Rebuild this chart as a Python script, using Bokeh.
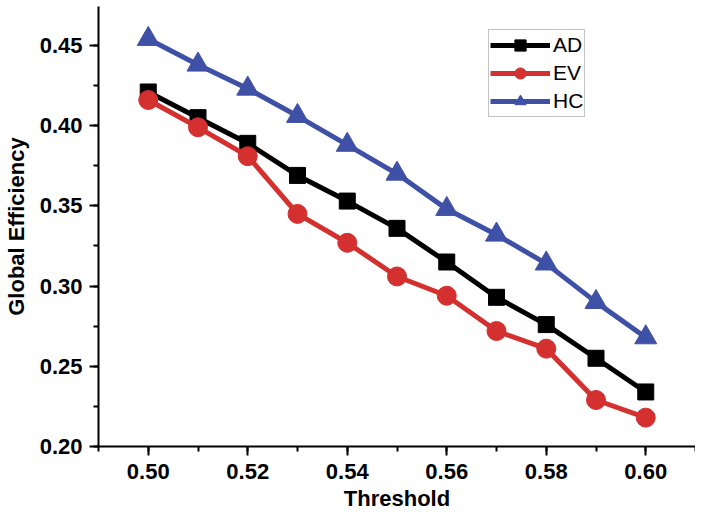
from bokeh.plotting import figure
from bokeh.models import Range1d, FixedTicker, Legend, LegendItem, CustomJSTickFormatter
from bokeh.embed import file_html
from bokeh.resources import INLINE

threshold = [0.50, 0.51, 0.52, 0.53, 0.54, 0.55, 0.56, 0.57, 0.58, 0.59, 0.60]
ad = [0.421, 0.405, 0.389, 0.369, 0.353, 0.336, 0.315, 0.293, 0.276, 0.255, 0.234]
ev = [0.416, 0.399, 0.381, 0.345, 0.327, 0.306, 0.294, 0.272, 0.261, 0.229, 0.218]
hc = [0.454, 0.438, 0.423, 0.406, 0.388, 0.370, 0.348, 0.332, 0.314, 0.290, 0.268]
x_ticks = [0.50, 0.52, 0.54, 0.56, 0.58, 0.60]
y_ticks = [0.20, 0.25, 0.30, 0.35, 0.40, 0.45]

FONT = "Liberation Sans"

p = figure(width=695, height=513, output_backend="svg", toolbar_location=None,
           x_range=Range1d(0.49, 0.61), y_range=Range1d(0.20, 0.4743),
           min_border_left=98, min_border_right=0, min_border_top=6, min_border_bottom=67)
p.outline_line_color = None
p.grid.visible = False

items = []
series = [("AD", ad, "#000000", "square", 16),
          ("EV", ev, "#d3302f", "circle", 19),
          ("HC", hc, "#3f51a6", "triangle", 22)]
for name, vals, col, mk, sz in series:
    l = p.line(threshold, vals, line_color=col, line_width=5)
    s = p.scatter(threshold, vals, marker=mk, size=sz, fill_color=col, line_color=col)
    items.append(LegendItem(label=name, renderers=[l, s]))

legend = Legend(items=items, location=(390, 329))
legend.border_line_color = "#888888"
legend.border_line_width = 1
legend.background_fill_alpha = 1
legend.padding = 1
legend.spacing = 0
legend.margin = 0
legend.glyph_width = 60
legend.glyph_height = 28
legend.label_height = 28
legend.label_standoff = 3
legend.label_text_font = FONT
legend.label_text_font_size = "21px"
legend.label_text_color = "#000000"
p.add_layout(legend, "center")

for ax in (p.xaxis[0], p.yaxis[0]):
    ax.axis_line_width = 2
    ax.axis_line_color = "#000000"
    ax.major_tick_line_width = 2
    ax.minor_tick_line_width = 2
    ax.major_tick_line_color = "#000000"
    ax.minor_tick_line_color = "#000000"
    ax.major_tick_out = 9
    ax.major_tick_in = 0
    ax.minor_tick_out = 5
    ax.minor_tick_in = 0
    ax.major_label_text_font = FONT
    ax.major_label_text_font_style = "bold"
    ax.major_label_text_font_size = "22px"
    ax.major_label_text_color = "#000000"
    ax.axis_label_text_font = FONT
    ax.axis_label_text_font_style = "bold"
    ax.axis_label_text_font_size = "22px"
    ax.axis_label_text_color = "#000000"
    ax.formatter = CustomJSTickFormatter(code="return tick.toFixed(2);")

p.xaxis[0].ticker = FixedTicker(ticks=x_ticks, minor_ticks=[0.49 + 0.01 * i for i in range(13)])
p.yaxis[0].ticker = FixedTicker(ticks=y_ticks, minor_ticks=[0.20 + 0.025 * i for i in range(12)])
p.xaxis.axis_label = "Threshold"
p.yaxis.axis_label = "Global Efficiency"
p.xaxis[0].major_label_standoff = 8
p.yaxis[0].major_label_standoff = 7
p.xaxis[0].axis_label_standoff = 4
p.yaxis[0].axis_label_standoff = 8

open("out.html", "w").write(file_html(p, INLINE))
